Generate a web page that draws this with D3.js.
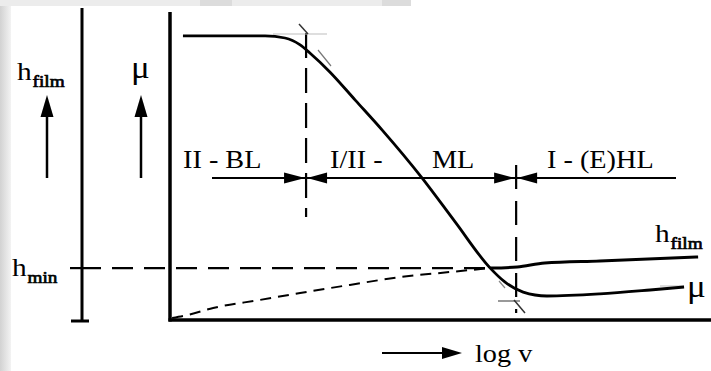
<!DOCTYPE html>
<html>
<head>
<meta charset="utf-8">
<script src="https://cdn.jsdelivr.net/npm/d3@7"></script>
<style>
  body { margin: 0; background: #fff; }
  svg { display: block; }
  text { font-family: "Liberation Serif", "Times New Roman", serif; fill: #000; }
</style>
</head>
<body>
<div id="chart"></div>
<script>
// stribeck curve, log v on x (0..100), mu / h on y (0..100)
var muX = [2.4, 17.6, 21.3, 24.1, 25.9, 29.6, 34.3, 39.3, 46.7, 52.8, 59.3, 62.0, 65.4, 69.8, 79.6, 88.9, 95.2];
var muY = [94.7, 94.7, 94.0, 91.7, 89.0, 82.7, 73.3, 63.3, 47.3, 32.7, 17.3, 12.7, 9.3, 8.0, 8.7, 10.0, 11.0];

// film thickness, dashed below h_min then solid
var hDashX = [0.4, 3.3, 8.0, 16.7, 24.1, 33.3, 42.6, 51.9, 59.3];
var hDashY = [0.7, 1.7, 4.0, 6.7, 9.0, 11.7, 14.3, 16.0, 17.3];
var hSolidX = [59.3, 64.3, 69.4, 79.6, 97.8];
var hSolidY = [17.3, 17.7, 19.0, 19.7, 21.0];

var hMin = 17.3;
var boundaries = [25.2, 64.1];
var regimeLabels = ["II - BL", "I/II -", "ML", "I - (E)HL"];

var width = 711, height = 371;
var stretch = 1.13;

var svg = d3.select("#chart")
    .append("svg")
    .attr("width", width)
    .attr("height", height);

var x = d3.scaleLinear().domain([0, 100]).range([170, 710]);
var y = d3.scaleLinear().domain([0, 100]).range([320, 20]);

// scan background bits
var defs = svg.append("defs");
var grad = defs.append("linearGradient").attr("id", "edge");
grad.append("stop").attr("offset", "0%").attr("stop-color", "#d2d2d2");
grad.append("stop").attr("offset", "100%").attr("stop-color", "#f3f3f3");
svg.append("rect").attr("x", 0).attr("y", 0).attr("width", 11).attr("height", height).attr("fill", "url(#edge)");
svg.append("rect").attr("x", 0).attr("y", 0).attr("width", 411).attr("height", 6).attr("fill", "#ececec");
svg.append("rect").attr("x", 200).attr("y", 0).attr("width", 32).attr("height", 6).attr("fill", "#dcdcdc");
svg.append("rect").attr("x", 382).attr("y", 0).attr("width", 29).attr("height", 6).attr("fill", "#dcdcdc");

function line(g, x1, y1, x2, y2, w, dash, col) {
    return g.append("line")
        .attr("x1", x1).attr("y1", y1).attr("x2", x2).attr("y2", y2)
        .attr("stroke", col || "#000")
        .attr("stroke-width", w)
        .attr("stroke-dasharray", dash || null);
}

function head(g, tx, ty, dir, len, half) {
    var pts;
    if (dir == "right") pts = [[tx, ty], [tx - len, ty - half], [tx - len, ty + half]];
    if (dir == "left") pts = [[tx, ty], [tx + len, ty - half], [tx + len, ty + half]];
    if (dir == "up") pts = [[tx, ty], [tx - half, ty + len], [tx + half, ty + len]];
    g.append("path").attr("d", "M" + pts.join("L") + "Z").attr("fill", "#000");
}

function label(g, tx, ty, str, size, heavy) {
    var t = g.append("text")
        .attr("x", tx).attr("y", ty)
        .attr("font-size", size)
        .text(str);
    if (heavy) t.attr("stroke", "#000").attr("stroke-width", heavy);
    var w = t.node().getComputedTextLength();
    t.attr("textLength", w * stretch).attr("lengthAdjust", "spacingAndGlyphs");
    return t;
}

function withSub(g, tx, ty, main, sub) {
    var t = label(g, tx, ty, main, 26);
    var w = t.node().getComputedTextLength() * stretch;
    label(g, tx + w - 1, ty + 7, sub, 17, 0.7);
}

var frame = svg.append("g");

// h_film axis with foot tick
line(frame, 82, 8, 82, 321, 3);
line(frame, 71, 321, 89, 321, 3);
// mu axis and log v axis
line(frame, 170, 12, 170, 321.5, 3.5);
line(frame, 168.5, 320, 711, 320, 3.5);

// up arrows
line(frame, 47, 110, 47, 178, 2.5);
head(frame, 47, 95, "up", 22, 6.5);
line(frame, 141, 110, 141, 178, 2.5);
head(frame, 141, 95, "up", 22, 6.5);

// h_min level
var hy = y(hMin);
line(frame, 70, hy, 80, hy, 2.2);
line(frame, 80, hy, x(59.3), hy, 2.2, "21,11");

// regime boundaries
line(frame, x(boundaries[0]), 33, x(boundaries[0]), 217, 2.2, "25,10");
line(frame, x(boundaries[1]), 165, x(boundaries[1]), 313, 2.2, "24,12");

// regime arrow line
var ry = 178;
line(frame, 212, ry, 676, ry, 2);
boundaries.forEach(function(b){
    var bx = x(b);
    head(frame, bx - 1, ry, "right", 21, 5.5);
    head(frame, bx + 1, ry, "left", 20, 5.5);
});

// faint construction marks
var marks = svg.append("g");
line(marks, 273, 34, 327, 34, 1, null, "#bdbdbd");
line(marks, 299, 24, 308, 34, 1.5, null, "#333");
line(marks, 318, 50, 331, 66, 1.2, null, "#777");
line(marks, 498, 301, 520, 301, 1.2, null, "#555");
line(marks, 514, 300, 525, 313, 1.5, null, "#333");
line(marks, 499, 281, 505, 288, 1.2, null, "#888");
line(marks, 660, 286, 684, 286, 1, null, "#bbb");

// curves
var curve = d3.line()
    .x(d => x(d[0]))
    .y(d => y(d[1]))
    .curve(d3.curveMonotoneX);

svg.append("path")
    .datum(d3.zip(hDashX, hDashY))
    .attr("d", curve)
    .attr("fill", "none")
    .attr("stroke", "#000")
    .attr("stroke-width", 2)
    .attr("stroke-dasharray", "11,7");

svg.append("path")
    .datum(d3.zip(hSolidX, hSolidY))
    .attr("d", curve)
    .attr("fill", "none")
    .attr("stroke", "#000")
    .attr("stroke-width", 3);

svg.append("path")
    .datum(d3.zip(muX, muY))
    .attr("d", curve)
    .attr("fill", "none")
    .attr("stroke", "#000")
    .attr("stroke-width", 2.8);

// texts
var txt = svg.append("g");
withSub(txt, 17, 80, "h", "film");
label(txt, 131, 78, "\u03bc", 31);
withSub(txt, 12, 276, "h", "min");
withSub(txt, 655, 242, "h", "film");
label(txt, 687, 297, "\u03bc", 31);

var labelX = [183, 330, 432, 547];
regimeLabels.forEach(function(s, i){
    label(txt, labelX[i], 168, s, 25);
});

// log v arrow
line(txt, 382, 353, 445, 353, 2.2);
head(txt, 462, 353, "right", 20, 6);
label(txt, 475, 362, "log v", 25);
</script>
</body>
</html>
